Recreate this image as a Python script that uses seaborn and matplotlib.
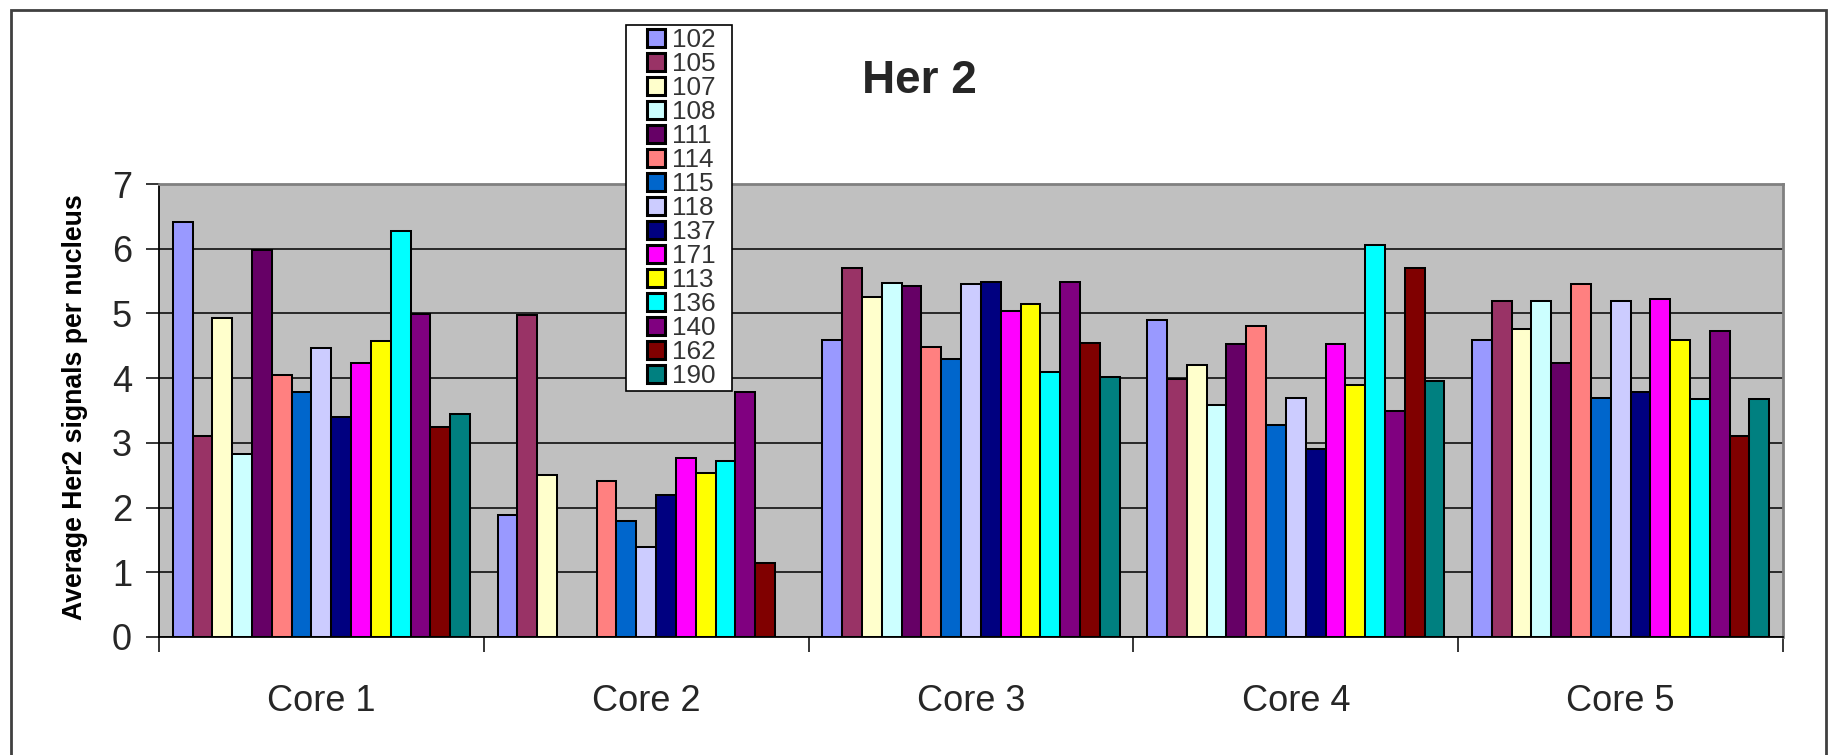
import numpy as np
import pandas as pd
import matplotlib
matplotlib.use("Agg")
import matplotlib.pyplot as plt
from matplotlib.patches import Patch, Rectangle
from matplotlib.legend_handler import HandlerPatch
import seaborn as sns

# --- data -------------------------------------------------------------
cores = ["Core 1", "Core 2", "Core 3", "Core 4", "Core 5"]
samples = ["102", "105", "107", "108", "111", "114", "115", "118",
           "137", "171", "113", "136", "140", "162", "190"]

s102 = [6.41, 1.89, 4.59, 4.90, 4.59]
s105 = [3.11, 4.98, 5.70, 3.99, 5.19]
s107 = [4.93, 2.50, 5.25, 4.20, 4.76]
s108 = [2.83, np.nan, 5.47, 3.59, 5.19]
s111 = [5.98, np.nan, 5.42, 4.52, 4.23]
s114 = [4.05, 2.41, 4.48, 4.81, 5.45]
s115 = [3.78, 1.80, 4.30, 3.28, 3.70]
s118 = [4.46, 1.39, 5.46, 3.70, 5.19]
s137 = [3.40, 2.19, 5.49, 2.91, 3.79]
s171 = [4.23, 2.76, 5.04, 4.52, 5.22]
s113 = [4.57, 2.54, 5.14, 3.89, 4.59]
s136 = [6.27, 2.72, 4.10, 6.06, 3.67]
s140 = [4.99, 3.78, 5.49, 3.49, 4.73]
s162 = [3.24, 1.14, 4.55, 5.70, 3.11]
s190 = [3.45, np.nan, 4.01, 3.95, 3.67]

series = [s102, s105, s107, s108, s111, s114, s115, s118,
          s137, s171, s113, s136, s140, s162, s190]

colors = ["#9999FF", "#993366", "#FFFFCC", "#CCFFFF", "#660066",
          "#FF8080", "#0066CC", "#CCCCFF", "#000080", "#FF00FF",
          "#FFFF00", "#00FFFF", "#800080", "#800000", "#008080"]

title = "Her 2"
ylabel = "Average Her2 signals per nucleus"

# long-format table for seaborn
rows = []
for name, vals in zip(samples, series):
    for core, v in zip(cores, vals):
        if not np.isnan(v):
            rows.append({"core": core, "sample": name, "value": v})
df = pd.DataFrame(rows)

# --- figure -----------------------------------------------------------
sns.set_style("white")
plt.rcParams["font.family"] = ["Liberation Sans", "DejaVu Sans"]

W, H = 1832, 755
fig = plt.figure(figsize=(W / 100, H / 100), dpi=100)
fig.patch.set_facecolor("white")

left, right, top, bottom = 159, 1783, 184, 637
ax = fig.add_axes([left / W, 1 - bottom / H, (right - left) / W, (bottom - top) / H])
ax.set_facecolor("#C0C0C0")

palette = dict(zip(samples, colors))
sns.barplot(data=df, x="core", y="value", hue="sample",
            order=cores, hue_order=samples, palette=palette,
            width=0.915, errorbar=None, edgecolor="black",
            linewidth=1.45, saturation=1, legend=False, ax=ax)

ax.set_xlim(-0.5, 4.5)
ax.set_ylim(0, 7)
ax.set_yticks(range(0, 8))
ax.yaxis.grid(True, color="black", linewidth=1.1)
ax.xaxis.grid(False)
ax.set_axisbelow(True)

ax.set_xlabel("")
ax.set_ylabel(ylabel, fontsize=19.2, fontweight="bold", color="black")
ax.yaxis.set_label_coords(-0.044, 0.508)

ax.tick_params(axis="y", direction="out", length=9.5, width=1.1,
               color="black", pad=10, labelsize=26, left=True)
ax.set_xticks(range(len(cores)))
ax.set_xticklabels(cores)
ax.tick_params(axis="x", which="major", length=0, pad=33.5, labelsize=26)
ax.set_xticks(np.arange(-0.5, len(cores), 1.0), minor=True)
ax.tick_params(axis="x", which="minor", direction="out", length=10.8,
               width=1.1, color="black", bottom=True)

for side in ("top", "right"):
    ax.spines[side].set_color("#808080")
    ax.spines[side].set_linewidth(2)
for side in ("left", "bottom"):
    ax.spines[side].set_color("black")
    ax.spines[side].set_linewidth(1.3)

fig.text(919 / W, 1 - 81 / H, title, fontsize=33, fontweight="bold",
         ha="center", va="center")


# legend keys: small square pushed to the right end of the key slot
def square_key(legend, orig_handle, xdescent, ydescent, width, height, fontsize):
    sq = min(0.72 * fontsize, height)
    return Rectangle((-xdescent + width - sq, -ydescent + (height - sq) / 2), sq, sq)


handles = [Patch(facecolor=c, edgecolor="black", linewidth=2.2) for c in colors]
leg = ax.legend(handles, samples, loc="upper left",
                bbox_to_anchor=(626 / W, 1 - 393 / H, 106 / W, 368 / H),
                bbox_transform=fig.transFigure, mode="expand",
                borderaxespad=0, fontsize=18.8, frameon=True, fancybox=False,
                shadow=False, handlelength=1.38, handleheight=0.72,
                handletextpad=0.27, labelspacing=0.0, borderpad=0.12,
                labelcolor="#333333",
                handler_map={Patch: HandlerPatch(patch_func=square_key)})
leg.get_frame().set_edgecolor("black")
leg.get_frame().set_linewidth(1.2)
leg.get_frame().set_facecolor("white")
leg.get_frame().set_alpha(1)

# outer chart border
fig.patches.append(Rectangle((10.5 / W, -0.02), (1826 - 10.5) / W, 1.02 - 9.5 / H,
                             transform=fig.transFigure, fill=False,
                             edgecolor="#404040", linewidth=2))

fig.savefig("out.png", dpi=100, facecolor="white")
